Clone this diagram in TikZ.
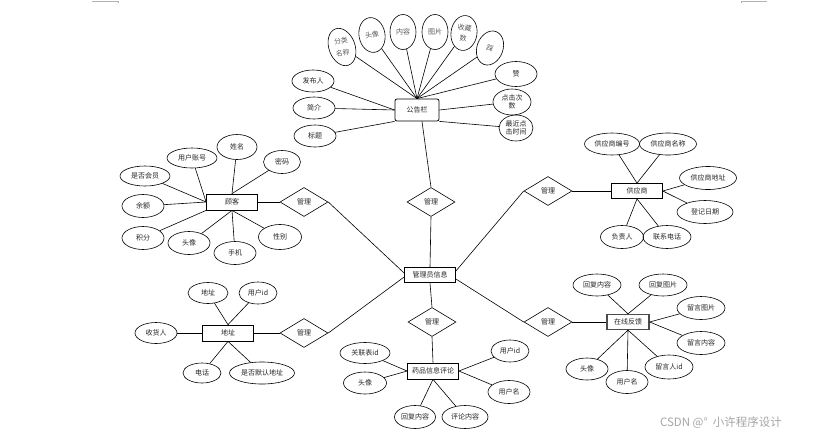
\documentclass[tikz,border=0pt]{standalone}
\usepackage{fontspec}
\setmainfont{Noto Sans CJK SC}
\usetikzlibrary{shapes.geometric}
\begin{document}
\begin{tikzpicture}[x=1pt,y=-1pt,
  every node/.style={text=black!85},
  attr/.style={ellipse, draw, line width=0.6pt, inner sep=0pt, minimum width=42pt, minimum height=22pt, align=center, font=\fontsize{7}{8}\selectfont},
  attrv/.style={attr, minimum width=26pt, minimum height=35pt, text=black!65, font=\fontsize{7}{10}\selectfont},
  ent/.style={rectangle, draw, line width=0.8pt, inner sep=0pt, minimum width=51pt, minimum height=16pt, font=\fontsize{7}{8}\selectfont},
  rel/.style={diamond, draw, line width=0.6pt, inner sep=0pt, minimum width=48pt, minimum height=29pt, font=\fontsize{7}{8}\selectfont},
  conn/.style={draw, line width=0.6pt}
]
\useasboundingbox (0,0) rectangle (815,440);
\fill[white] (0,0) rectangle (815,440);
% crop marks
\draw[black!30, line width=0.5pt] (92,1) -- (118,1) -- (118,3);
\draw[black!30, line width=0.5pt] (767,1) -- (741,1) -- (741,3);

% ---------- 公告栏 ----------
\node[ent, rounded corners=2pt, minimum width=44pt, minimum height=22pt] (gb) at (417,110) {公告栏};
\node[attrv, rotate=20, font=\fontsize{6.8}{12.5}\selectfont] (g1) at (342,47) {\rotatebox{-12}{\begin{tabular}{@{}c@{}}分类\\名称\end{tabular}}};
\node[attrv, rotate=10] (g2) at (372,35) {头像};
\node[attrv] (g3) at (403,32) {内容};
\node[attrv] (g4) at (435,32) {图片};
\node[attrv, rotate=-8, font=\fontsize{7}{11}\selectfont] (g5) at (464,33) {收藏\\数};
\node[attrv, rotate=-20] (g6) at (490,48) {踩};
\node[attr, minimum width=42pt, minimum height=25pt] (g7) at (516,74) {赞};
\node[attr, minimum width=38pt, minimum height=26pt] (g8) at (512,102) {点击次\\数};
\node[attr, minimum width=34pt, minimum height=26pt] (g9) at (516,128) {最近点\\击时间};
\node[attr] (g10) at (313,81) {发布人};
\node[attr] (g11) at (314,108) {简介};
\node[attr] (g12) at (315,136) {标题};
\foreach \n in {g1,g2,g3,g4,g5,g6,g7} \path[conn] (\n) -- (gb.north);
\path[conn] (g8) -- (gb.east);
\path[conn] (g9) -- (gb.south east);
\path[conn] (g10) -- (gb.west);
\path[conn] (g11) -- (gb.west);
\path[conn] (g12) -- (gb.south west);

% ---------- center ----------
\node[ent, minimum height=15pt] (adm) at (430,275) {管理员信息};
\node[rel] (r1) at (431,202) {管理};
\node[rel] (r2) at (304,202) {管理};
\node[rel] (r3) at (304,333) {管理};
\node[rel] (r4) at (432,322) {管理};
\node[rel] (r5) at (548,191) {管理};
\node[rel] (r6) at (548,322) {管理};
\path[conn] ([xshift=5pt]gb.south) -- (r1.north);
\path[conn] (r1.south) -- (adm.north);
\path[conn] (r2.east) -- ([yshift=2pt]adm.west);
\path[conn] (r3.east) -- ([yshift=-2pt]adm.west);
\path[conn] (adm.south) -- (r4.north);
\path[conn] ([yshift=4pt]adm.east) -- (r5.west);
\path[conn] ([yshift=-4pt]adm.east) -- (r6.west);

% ---------- 顾客 ----------
\node[ent] (gk) at (232,202) {顾客};
\node[attr, minimum width=50pt, minimum height=20pt] (k1) at (192,158) {用户账号};
\node[attr, minimum width=40pt, minimum height=25pt] (k2) at (237,147) {姓名};
\node[attr, minimum width=37pt, minimum height=23pt] (k3) at (282,162) {密码};
\node[attr, minimum width=50pt, minimum height=20pt] (k4) at (145,176) {是否会员};
\node[attr, minimum height=23pt] (k5) at (143,206) {余额};
\node[attr, minimum height=23pt] (k6) at (143,238) {积分};
\node[attr, minimum height=23pt] (k7) at (189,243) {头像};
\node[attr, minimum height=23pt] (k8) at (235,253) {手机};
\node[attr, minimum width=43pt, minimum height=25pt] (k9) at (280,237) {性别};
\path[conn] (k1) -- (gk.west);
\path[conn] (k4) -- (gk.west);
\path[conn] (k5) -- (gk.west);
\path[conn] (k6) -- (gk.south west);
\path[conn] (k2) -- (gk.north);
\path[conn] (k3) -- (gk.north);
\path[conn] (k7) -- (gk.south);
\path[conn] (k8) -- (gk.south);
\path[conn] (k9) -- (gk.south);
\path[conn] (gk.east) -- (r2.west);

% ---------- 地址 ----------
\node[ent] (dz) at (228,333) {地址};
\node[attr, minimum width=40pt, minimum height=21pt] (d1) at (208,293) {地址};
\node[attr, minimum width=38pt, minimum height=22pt] (d2) at (258,293) {用户id};
\node[attr, minimum height=21pt] (d3) at (156,333) {收货人};
\node[attr, minimum width=38pt, minimum height=20pt] (d4) at (202,373) {电话};
\node[attr, minimum width=65pt, minimum height=22pt] (d5) at (262,373) {是否默认地址};
\path[conn] (d1) -- (dz.north);
\path[conn] (d2) -- (dz.north);
\path[conn] (d3) -- (dz.west);
\path[conn] (d4) -- (dz.south);
\path[conn] (d5) -- (dz.south);
\path[conn] (dz.east) -- (r3.west);

% ---------- 药品信息评论 ----------
\node[ent] (dp) at (433,371) {药品信息评论};
\node[attr, minimum width=50pt, minimum height=21pt] (p1) at (365,353) {关联表id};
\node[attr, minimum width=43pt, minimum height=22pt] (p2) at (365,383) {头像};
\node[attr, minimum width=41pt, minimum height=23pt] (p3) at (415,417) {回复内容};
\node[attr, minimum width=46pt, minimum height=23pt] (p4) at (465,417) {评论内容};
\node[attr, minimum width=38pt, minimum height=22pt] (p5) at (510,351) {用户id};
\node[attr, minimum height=23pt] (p6) at (509,392) {用户名};
\path[conn] (p1) -- (dp.west);
\path[conn] (p2) -- (dp.west);
\path[conn] (p3) -- (dp.south);
\path[conn] (p4) -- (dp.south);
\path[conn] (p5) -- (dp.east);
\path[conn] (p6) -- (dp.east);
\path[conn] (r4.south) -- (dp.north);

% ---------- 供应商 ----------
\node[ent, minimum height=15pt] (gys) at (637,191) {供应商};
\node[attr, minimum width=55pt, minimum height=22pt] (s1) at (612,144) {供应商编号};
\node[attr, minimum width=57pt, minimum height=22pt] (s2) at (668,144) {供应商名称};
\node[attr, minimum width=57pt, minimum height=23pt] (s3) at (708,178) {供应商地址};
\node[attr, minimum width=56pt, minimum height=23pt] (s4) at (705,212) {登记日期};
\node[attr, minimum width=43pt, minimum height=23pt] (s5) at (622,237) {负责人};
\node[attr, minimum width=48pt, minimum height=23pt] (s6) at (667,237) {联系电话};
\path[conn] (s1) -- (gys.north);
\path[conn] (s2) -- (gys.north);
\path[conn] (s3) -- (gys.east);
\path[conn] (s4) -- (gys.east);
\path[conn] (s5) -- (gys.south);
\path[conn] (s6) -- (gys.south);
\path[conn] (r5.east) -- (gys.west);

% ---------- 在线反馈 ----------
\node[ent, minimum width=42pt, minimum height=15pt, line width=1.3pt, draw=black!70] (fk) at (628,322) {在线反馈};
\node[attr, minimum width=48pt, minimum height=22pt] (f1) at (597,285) {回复内容};
\node[attr, minimum width=48pt, minimum height=22pt] (f2) at (663,285) {回复图片};
\node[attr, minimum width=48pt, minimum height=23pt] (f3) at (701,308) {留言图片};
\node[attr, minimum width=48pt, minimum height=23pt] (f4) at (701,343) {留言内容};
\node[attr, minimum width=42pt, minimum height=22pt] (f5) at (587,369) {头像};
\node[attr, minimum width=42pt, minimum height=23pt] (f6) at (627,382) {用户名};
\node[attr, minimum width=48pt, minimum height=24pt] (f7) at (669,367) {留言人id};
\path[conn] (f1) -- (fk.north);
\path[conn] (f2) -- (fk.north);
\path[conn] (f3) -- (fk.east);
\path[conn] (f4) -- (fk.east);
\path[conn] (f5) -- (fk.south);
\path[conn] (f6) -- (fk.south);
\path[conn] (f7) -- (fk.south);
\path[conn] (r6.east) -- (fk.west);

% watermark
\node[text=black!35, font=\fontsize{11.5}{13}\selectfont, inner sep=0pt] (wm) at (721,423) {CSDN @°\ \ 小许程序设计};
\end{tikzpicture}
\end{document}
